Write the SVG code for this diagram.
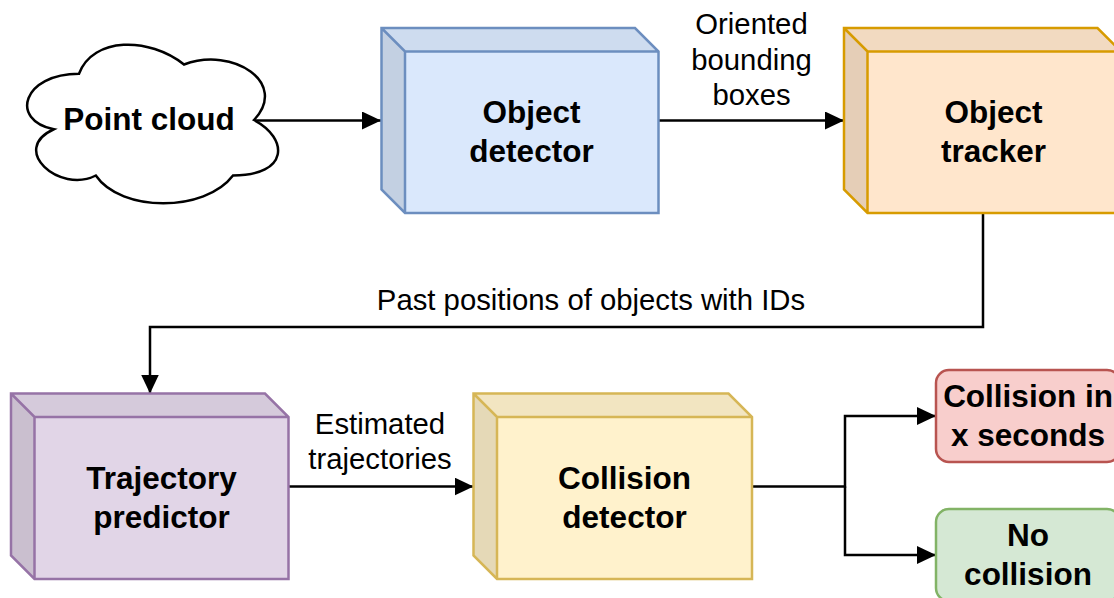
<svg xmlns="http://www.w3.org/2000/svg" width="1114" height="598" viewBox="0 0 1114 598">
<defs>
<marker id="arr" viewBox="0 0 19 18" markerWidth="19" markerHeight="18" refX="19" refY="9" orient="auto" markerUnits="userSpaceOnUse"><path d="M0,0 L19,9 L0,18 z" fill="#000"/></marker>
</defs>
<style>
.nt{font-family:"Liberation Sans",Arial,sans-serif;font-size:31.5px;font-weight:bold;text-anchor:middle;fill:#000}
.lt{font-family:"Liberation Sans",Arial,sans-serif;font-size:29.3px;text-anchor:middle;fill:#000}
.edge{fill:none;stroke:#000;stroke-width:2.5}
.sh{stroke:none}
.cube{stroke-width:2.5;stroke-linejoin:miter}
</style>
<rect width="1114" height="598" fill="#fff"/>
<g id="edges">
<path class="edge" d="M253,120.5 H381" marker-end="url(#arr)"/>
<path class="edge" d="M658.5,120.5 H844" marker-end="url(#arr)"/>
<path class="edge" d="M983,213 V327 H150 V393.5" marker-end="url(#arr)"/>
<path class="edge" d="M288.5,486.5 H473.5" marker-end="url(#arr)"/>
<path class="edge" d="M752,486.5 H845 V416 H936" marker-end="url(#arr)"/>
<path class="edge" d="M845,486.5 V555 H936" marker-end="url(#arr)"/>
<text class="lt" x="751.5" y="33.5">Oriented</text>
<text class="lt" x="751.5" y="69.5">bounding</text>
<text class="lt" x="751.5" y="104.5">boxes</text>
<text class="lt" x="591" y="310">Past positions of objects with IDs</text>
<text class="lt" x="380" y="433.5">Estimated</text>
<text class="lt" x="380" y="468.5">trajectories</text>
</g>
<g id="point-cloud">
<path d="M79,73.75 C23,73.75 9,120 53.8,129.25 C9,149.6 59.4,194 95.8,175.5 C121,212.5 205,212.5 233,175.5 C289,175.5 289,138.5 254,120 C289,83 233,46 184,64.5 C149,36.75 93,36.75 79,73.75 Z" fill="#fff" stroke="#000" stroke-width="2.5"/>
<text class="nt" x="149" y="130">Point cloud</text>
</g>
<g id="object-detector">
<path d="M381.5,28 H635 L658.5,51.5 V213 H405 L381.5,189.5 Z" fill="#dae8fc"/>
<path class="sh" d="M381.5,28 H635 L658.5,51.5 H405 Z" fill="#000" fill-opacity="0.05"/>
<path class="sh" d="M381.5,28 L405,51.5 V213 L381.5,189.5 Z" fill="#000" fill-opacity="0.1"/>
<path class="cube" d="M381.5,28 H635 L658.5,51.5 V213 H405 L381.5,189.5 Z M381.5,28 L405,51.5 H658.5 M405,51.5 V213" fill="none" stroke="#6c8ebf"/>
<text class="nt" x="531.5" y="123">Object</text>
<text class="nt" x="531.5" y="162">detector</text>
</g>
<g id="object-tracker">
<path d="M844,28 H1097.5 L1121,51.5 V213 H867.5 L844,189.5 Z" fill="#ffe6cc"/>
<path class="sh" d="M844,28 H1097.5 L1121,51.5 H867.5 Z" fill="#000" fill-opacity="0.05"/>
<path class="sh" d="M844,28 L867.5,51.5 V213 L844,189.5 Z" fill="#000" fill-opacity="0.1"/>
<path class="cube" d="M844,28 H1097.5 L1121,51.5 V213 H867.5 L844,189.5 Z M844,28 L867.5,51.5 H1121 M867.5,51.5 V213" fill="none" stroke="#d79b00"/>
<text class="nt" x="993.5" y="123">Object</text>
<text class="nt" x="993.5" y="162">tracker</text>
</g>
<g id="trajectory-predictor">
<path d="M11,393.5 H265 L288.5,417 V579 H34.5 L11,555.5 Z" fill="#e1d5e7"/>
<path class="sh" d="M11,393.5 H265 L288.5,417 H34.5 Z" fill="#000" fill-opacity="0.05"/>
<path class="sh" d="M11,393.5 L34.5,417 V579 L11,555.5 Z" fill="#000" fill-opacity="0.1"/>
<path class="cube" d="M11,393.5 H265 L288.5,417 V579 H34.5 L11,555.5 Z M11,393.5 L34.5,417 H288.5 M34.5,417 V579" fill="none" stroke="#9673a6"/>
<text class="nt" x="161.5" y="489">Trajectory</text>
<text class="nt" x="161.5" y="527.5">predictor</text>
</g>
<g id="collision-detector">
<path d="M473.5,393.5 H728.5 L752,417 V579 H497 L473.5,555.5 Z" fill="#fff2cc"/>
<path class="sh" d="M473.5,393.5 H728.5 L752,417 H497 Z" fill="#000" fill-opacity="0.05"/>
<path class="sh" d="M473.5,393.5 L497,417 V579 L473.5,555.5 Z" fill="#000" fill-opacity="0.1"/>
<path class="cube" d="M473.5,393.5 H728.5 L752,417 V579 H497 L473.5,555.5 Z M473.5,393.5 L497,417 H752 M497,417 V579" fill="none" stroke="#d6b656"/>
<text class="nt" x="624.5" y="489">Collision</text>
<text class="nt" x="624.5" y="527.5">detector</text>
</g>
<g id="collision-in-x-seconds">
<rect x="936" y="370" width="184" height="92" rx="13" ry="13" fill="#f8cecc" stroke="#b85450" stroke-width="2.5"/>
<text class="nt" x="1028" y="407">Collision in</text>
<text class="nt" x="1028" y="446">x seconds</text>
</g>
<g id="no-collision">
<rect x="936" y="509" width="184" height="92" rx="13" ry="13" fill="#d5e8d4" stroke="#82b366" stroke-width="2.5"/>
<text class="nt" x="1028" y="546">No</text>
<text class="nt" x="1028" y="584.5">collision</text>
</g>
</svg>
